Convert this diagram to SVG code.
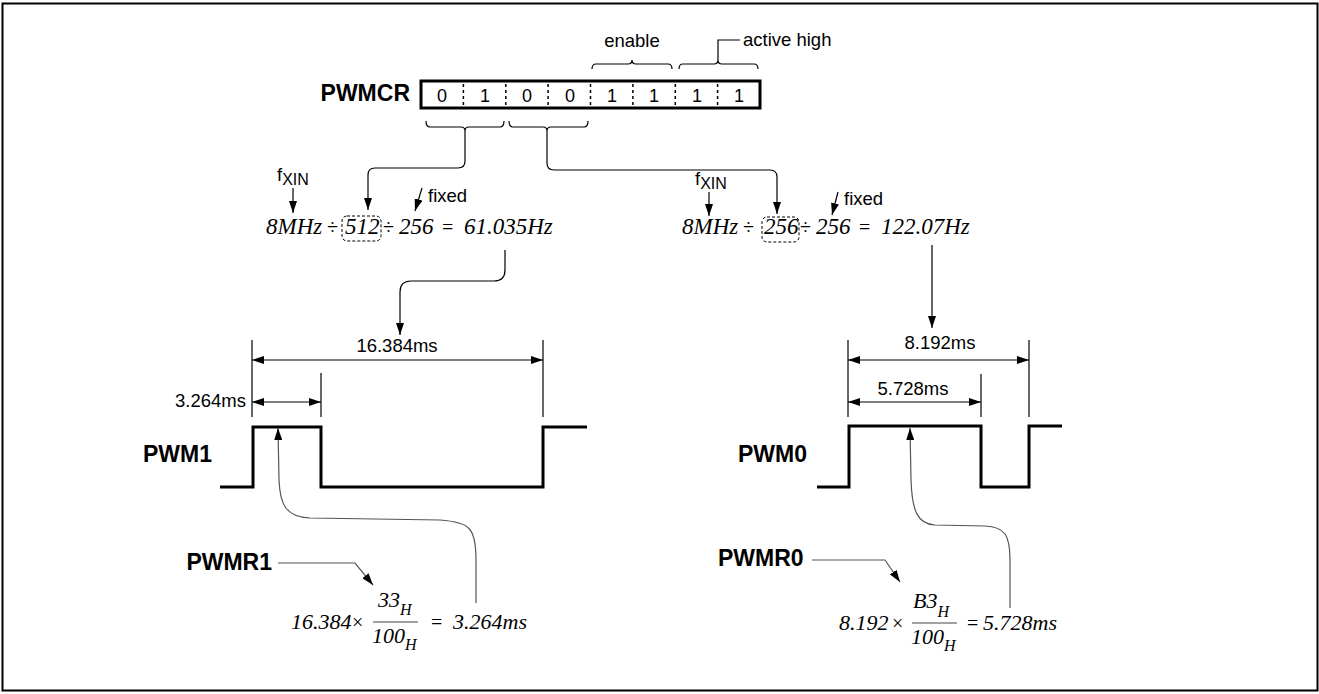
<svg xmlns="http://www.w3.org/2000/svg" width="1319" height="694" viewBox="0 0 1319 694">
<style>
.frame{fill:none;stroke:#000;stroke-width:2}
.sans{font-family:"Liberation Sans",Arial,sans-serif;fill:#000}
.lbl{font-size:18.5px}
.bold{font-weight:bold;font-size:23px}
.math{font-family:"Liberation Serif","Times New Roman",serif;font-style:italic;font-size:23px;fill:#000}
.mathb{font-family:"Liberation Serif","Times New Roman",serif;font-style:italic;font-size:22px;fill:#000}
.op{font-family:"Liberation Serif","Times New Roman",serif;font-size:20px;fill:#000}
.sub{font-size:16px}
.ln{fill:none;stroke:#000;stroke-width:1.2}
.gray{fill:none;stroke:#555;stroke-width:1.2}
.wave{fill:none;stroke:#000;stroke-width:3}
.dash{fill:none;stroke:#000;stroke-width:1;stroke-dasharray:3 2}
.arr{marker-end:url(#ah)}
.dim{marker-end:url(#ah);marker-start:url(#ahs)}
</style>
<defs>
<marker id="ah" markerUnits="userSpaceOnUse" markerWidth="13" markerHeight="8" refX="12" refY="4" orient="auto"><path d="M0,0 L12,4 L0,8 z" fill="#000"/></marker>
<marker id="ahs" markerUnits="userSpaceOnUse" markerWidth="13" markerHeight="8" refX="12" refY="4" orient="auto-start-reverse"><path d="M0,0 L12,4 L0,8 z" fill="#000"/></marker>
</defs>
<rect class="frame" x="2.5" y="3.5" width="1315" height="687"/>

<g id="register">
<text class="sans bold" x="410" y="101" text-anchor="end">PWMCR</text>
<rect x="421" y="81" width="339" height="27" fill="none" stroke="#000" stroke-width="3"/>
<g stroke="#000" stroke-width="1.5" stroke-dasharray="3 3">
<line x1="463.4" y1="84" x2="463.4" y2="106"/><line x1="505.8" y1="84" x2="505.8" y2="106"/>
<line x1="548.1" y1="84" x2="548.1" y2="106"/><line x1="590.5" y1="84" x2="590.5" y2="106"/>
<line x1="632.9" y1="84" x2="632.9" y2="106"/><line x1="675.3" y1="84" x2="675.3" y2="106"/>
<line x1="717.6" y1="84" x2="717.6" y2="106"/>
</g>
<g class="sans" font-size="18" text-anchor="middle">
<text x="442" y="102">0</text><text x="485" y="102">1</text><text x="527" y="102">0</text><text x="570" y="102">0</text>
<text x="612" y="102">1</text><text x="654" y="102">1</text><text x="697" y="102">1</text><text x="739" y="102">1</text>
</g>
</g>

<g id="brace-enable">
<path class="ln" d="M592,69 Q592,64 596,64 L628,64 Q632,64 632,60 Q632,64 636,64 L668,64 Q672,64 672,69"/>
<text class="sans lbl" x="632" y="47" text-anchor="middle">enable</text>
</g>
<g id="brace-active">
<path class="ln" d="M679,69 Q679,64 683,64 L714,64 Q718,64 718,60 Q718,64 722,64 L754,64 Q758,64 758,69"/>
<path class="ln" d="M718,60 L718,40 L740,40"/>
<text class="sans lbl" x="743" y="46">active high</text>
</g>
<g id="brace-low">
<path class="ln" d="M426,121 Q426,127 430,127 L461,127 Q465,127 465,131 Q465,127 469,127 L500,127 Q504,127 504,121"/>
<path class="ln" d="M509,121 Q509,127 513,127 L543,127 Q547,127 547,131 Q547,127 551,127 L584,127 Q588,127 588,121"/>
</g>

<g id="formula-left">
<text class="sans lbl" x="277" y="181">f<tspan class="sub" dy="4">XIN</tspan></text>
<text class="sans lbl" x="428" y="202">fixed</text>
<text class="math" x="266" y="234">8MHz</text>
<text class="op" x="327" y="234">÷</text>
<rect class="dash" x="342" y="216" width="39" height="25" rx="5"/>
<text class="math" x="345" y="234">512</text>
<text class="op" x="383" y="234">÷</text>
<text class="math" x="399" y="234">256</text>
<text class="op" x="442" y="234">=</text>
<text class="math" x="464" y="234">61.035Hz</text>
</g>

<g id="formula-right">
<text class="sans lbl" x="695" y="185">f<tspan class="sub" dy="4">XIN</tspan></text>
<text class="sans lbl" x="844" y="205">fixed</text>
<text class="math" x="682" y="234">8MHz</text>
<text class="op" x="743" y="234">÷</text>
<rect class="dash" x="762" y="217" width="37" height="25" rx="5"/>
<text class="math" x="764" y="234">256</text>
<text class="op" x="800" y="234">÷</text>
<text class="math" x="816" y="234">256</text>
<text class="op" x="859" y="234">=</text>
<text class="math" x="881" y="234">122.07Hz</text>
</g>

<g id="pwm1">
<text class="sans bold" x="212" y="462" text-anchor="end">PWM1</text>
<path class="wave" d="M220,487 L253,487 L253,427 L321,427 L321,487 L543,487 L543,427 L587,427"/>
<g class="ln"><line x1="252" y1="340" x2="252" y2="417"/><line x1="321" y1="373" x2="321" y2="417"/><line x1="543" y1="340" x2="543" y2="417"/></g>
<text class="sans lbl" x="397" y="352" text-anchor="middle">16.384ms</text>
<text class="sans lbl" x="246" y="407" text-anchor="end">3.264ms</text>
</g>

<g id="pwm0">
<text class="sans bold" x="807" y="462" text-anchor="end">PWM0</text>
<path class="wave" d="M817,487 L849,487 L849,426 L981,426 L981,487 L1029,487 L1029,426 L1062,426"/>
<g class="ln"><line x1="848" y1="340" x2="848" y2="417"/><line x1="981" y1="374" x2="981" y2="417"/><line x1="1029" y1="340" x2="1029" y2="417"/></g>
<text class="sans lbl" x="940" y="349" text-anchor="middle">8.192ms</text>
<text class="sans lbl" x="913" y="395" text-anchor="middle">5.728ms</text>
</g>

<g id="pwmr1">
<text class="sans bold" x="272" y="570" text-anchor="end">PWMR1</text>
<text class="mathb" x="291" y="629">16.384</text>
<text class="op" x="352" y="629">×</text>
<text class="mathb" x="378" y="607">33<tspan class="sub" dy="8">H</tspan></text>
<line x1="373" y1="622" x2="418" y2="622" stroke="#444" stroke-width="1"/>
<text class="mathb" x="372" y="643">100<tspan class="sub" dy="7">H</tspan></text>
<text class="op" x="431" y="629">=</text>
<text class="mathb" x="453" y="629">3.264ms</text>
</g>

<g id="pwmr0">
<text class="sans bold" x="718" y="566">PWMR0</text>
<text class="mathb" x="839" y="630">8.192</text>
<text class="op" x="892" y="630">×</text>
<text class="mathb" x="913" y="608">B3<tspan class="sub" dy="9">H</tspan></text>
<line x1="912" y1="623" x2="957" y2="623" stroke="#444" stroke-width="1"/>
<text class="mathb" x="911" y="644">100<tspan class="sub" dy="7">H</tspan></text>
<text class="op" x="967" y="630">=</text>
<text class="mathb" x="983" y="630">5.728ms</text>
</g>

<g id="connectors">
<path class="ln arr" d="M465,131 L465,161 Q465,168 458,168 L375,168 Q368,168 368,175 L368,210"/>
<path class="ln arr" d="M547,131 L547,163 Q547,170 554,170 L770,170 Q777,170 777,177 L777,214"/>
<line class="ln arr" x1="293" y1="188" x2="293" y2="213"/>
<line class="ln arr" x1="709" y1="192" x2="709" y2="216"/>
<line class="ln arr" x1="422" y1="188" x2="415" y2="211"/>
<line class="ln arr" x1="838" y1="192" x2="832" y2="215"/>
<path class="ln arr" d="M505,250 L505,270 Q505,281 494,281 L411,281 Q400,281 400,292 L400,335"/>
<line class="ln arr" x1="932" y1="245" x2="932" y2="328"/>
<line class="ln dim" x1="252" y1="360" x2="543" y2="360"/>
<line class="ln dim" x1="252" y1="402" x2="321" y2="402"/>
<line class="ln dim" x1="848" y1="360" x2="1029" y2="360"/>
<line class="ln dim" x1="848" y1="402" x2="981" y2="402"/>
<path class="gray arr" d="M278,563 L355,563 L373,585"/>
<path class="gray arr" d="M812,560 L885,560 L900,582"/>
<path class="gray arr" d="M476,603 L476,560 C476,528 470,522 440,520 L310,518 C286,517 280,505 279,480 L278,428"/>
<path class="gray arr" d="M1010,608 L1010,560 C1010,535 1005,527 985,526 L935,525 C917,524 912,510 911,480 L910,428"/>
</g>
</svg>
